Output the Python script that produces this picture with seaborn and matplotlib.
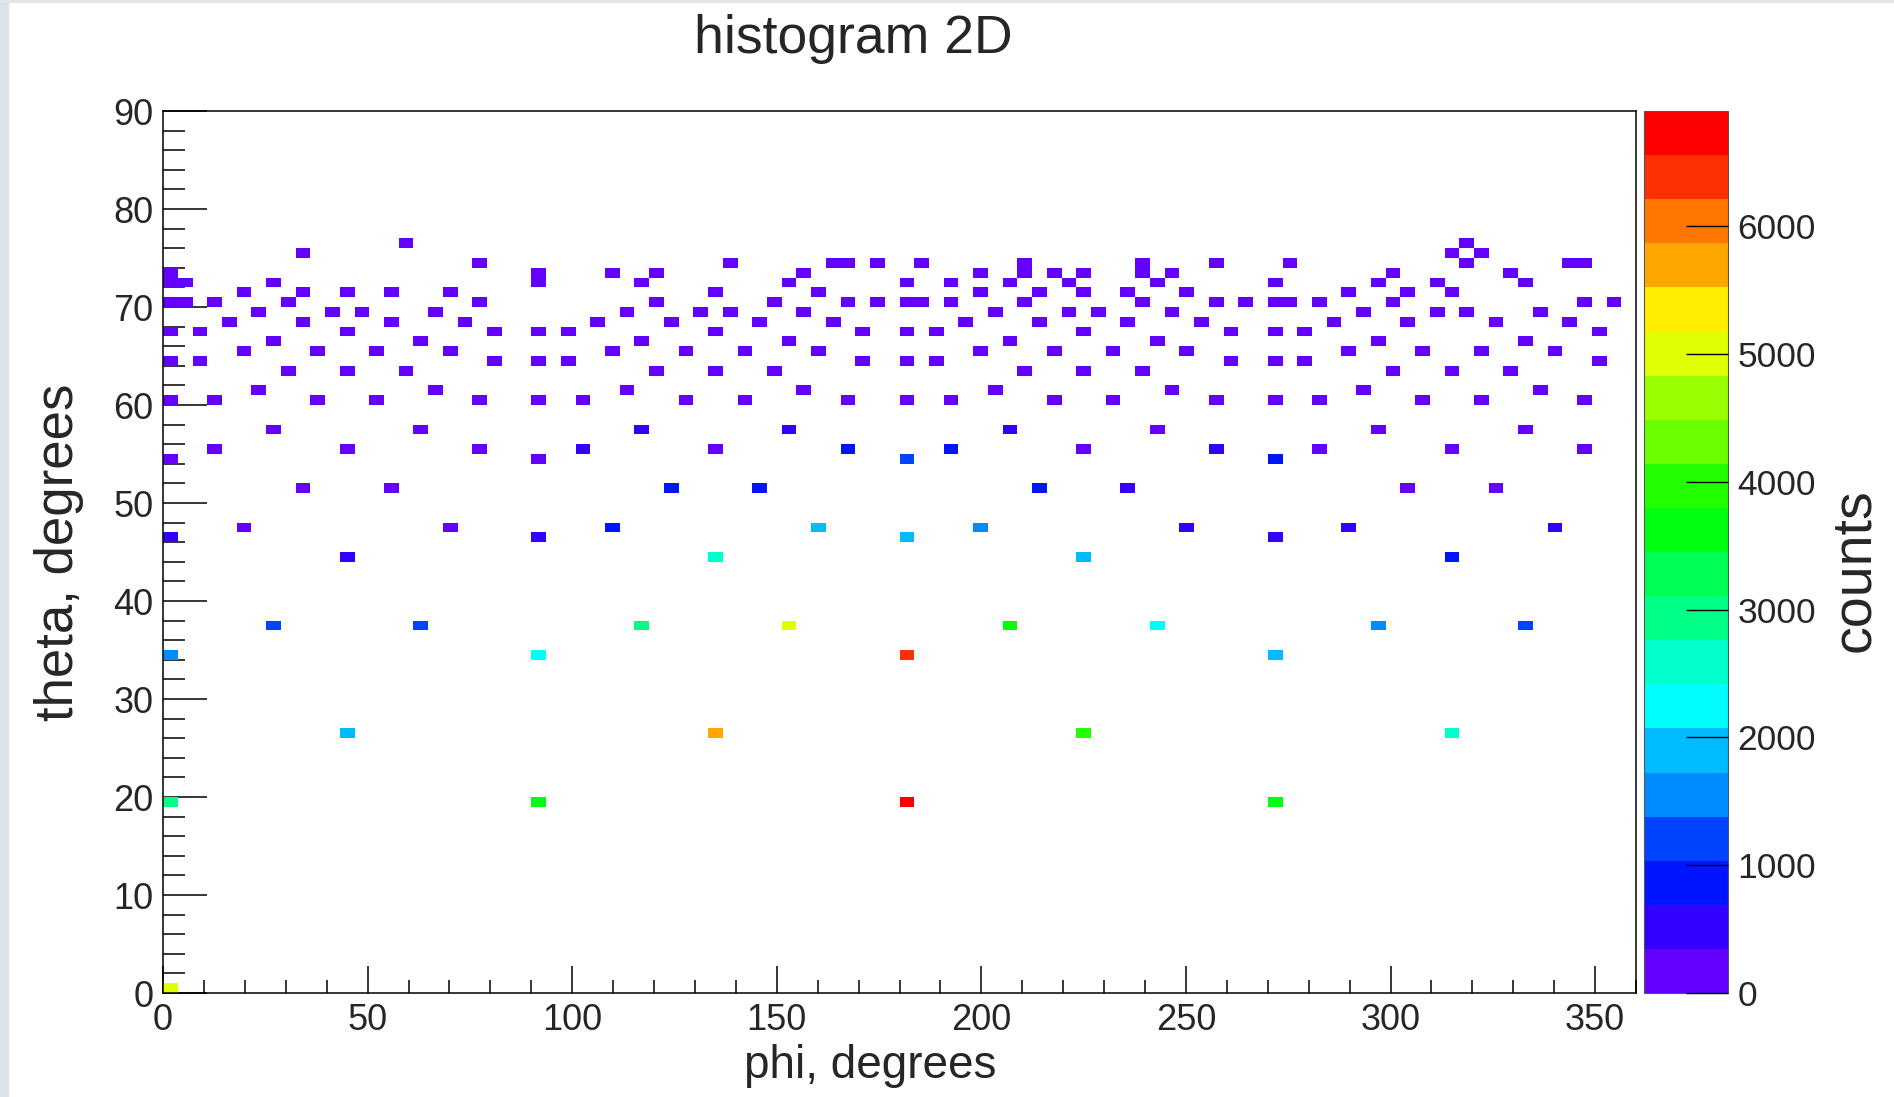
import colorsys

import numpy as np
import pandas as pd
import matplotlib
matplotlib.use("Agg")
import matplotlib.pyplot as plt
from matplotlib.colors import ListedColormap
from matplotlib.patches import Rectangle
from matplotlib.ticker import MultipleLocator
import seaborn as sns

# filled cells of the 2D histogram, one line per theta row (bin centres, degrees)
phi_deg = [
    59.4, 318.6,                                                       # 76.5
    34.2, 315.0, 322.2,                                                # 75.5
    77.4, 138.6, 163.8, 167.4, 174.6, 185.4, 210.6, 239.4, 257.4,
    275.4, 318.6, 343.8, 347.4,                                        # 74.5
    1.8, 91.8, 109.8, 120.6, 156.6, 199.8, 210.6, 217.8, 225.0,
    239.4, 246.6, 300.6, 329.4,                                        # 73.5
    1.8, 5.4, 27.0, 91.8, 117.0, 153.0, 181.8, 192.6, 207.0, 221.4,
    243.0, 271.8, 297.0, 311.4, 333.0,                                 # 72.5
    19.8, 34.2, 45.0, 55.8, 70.2, 135.0, 160.2, 199.8, 214.2, 225.0,
    235.8, 250.2, 289.8, 304.2, 315.0,                                 # 71.5
    1.8, 5.4, 12.6, 30.6, 77.4, 120.6, 149.4, 167.4, 174.6, 181.8,
    185.4, 192.6, 210.6, 239.4, 257.4, 264.6, 271.8, 275.4, 282.6,
    300.6, 347.4, 354.6,                                               # 70.5
    23.4, 41.4, 48.6, 66.6, 113.4, 131.4, 138.6, 156.6, 203.4, 221.4,
    228.6, 246.6, 293.4, 311.4, 318.6, 336.6,                          # 69.5
    16.2, 34.2, 55.8, 73.8, 106.2, 124.2, 145.8, 163.8, 196.2, 214.2,
    235.8, 253.8, 286.2, 304.2, 325.8, 343.8,                          # 68.5
    1.8, 9.0, 45.0, 81.0, 91.8, 99.0, 135.0, 171.0, 181.8, 189.0,
    225.0, 261.0, 271.8, 279.0, 351.0,                                 # 67.5
    27.0, 63.0, 117.0, 153.0, 207.0, 243.0, 297.0, 333.0,              # 66.5
    19.8, 37.8, 52.2, 70.2, 109.8, 127.8, 142.2, 160.2, 199.8, 217.8,
    232.2, 250.2, 289.8, 307.8, 322.2, 340.2,                          # 65.5
    1.8, 9.0, 81.0, 91.8, 99.0, 171.0, 181.8, 189.0, 261.0, 271.8,
    279.0, 351.0,                                                      # 64.5
    30.6, 45.0, 59.4, 120.6, 135.0, 149.4, 210.6, 225.0, 239.4, 300.6,
    315.0, 329.4,                                                      # 63.5
    23.4, 66.6, 113.4, 156.6, 203.4, 246.6, 293.4, 336.6,              # 61.5
    1.8, 12.6, 37.8, 52.2, 77.4, 91.8, 102.6, 127.8, 142.2, 167.4,
    181.8, 192.6, 217.8, 232.2, 257.4, 271.8, 282.6, 307.8, 322.2,
    347.4,                                                             # 60.5
    27.0, 63.0, 117.0, 153.0, 207.0, 243.0, 297.0, 333.0,              # 57.5
    12.6, 45.0, 77.4, 102.6, 135.0, 167.4, 192.6, 225.0, 257.4, 282.6,
    315.0, 347.4,                                                      # 55.5
    1.8, 91.8, 181.8, 271.8,                                           # 54.5
    34.2, 55.8, 124.2, 145.8, 214.2, 235.8, 304.2, 325.8,              # 51.5
    19.8, 70.2, 109.8, 160.2, 199.8, 250.2, 289.8, 340.2,              # 47.5
    1.8, 91.8, 181.8, 271.8,                                           # 46.5
    45.0, 135.0, 225.0, 315.0,                                         # 44.5
    27.0, 63.0, 117.0, 153.0, 207.0, 243.0, 297.0, 333.0,              # 37.5
    1.8, 91.8, 181.8, 271.8,                                           # 34.5
    45.0, 135.0, 225.0, 315.0,                                         # 26.5
    1.8, 91.8, 181.8, 271.8,                                           # 19.5
    1.8,                                                               # 0.5
]

theta_deg = ([76.5] * 2 + [75.5] * 3 + [74.5] * 13 + [73.5] * 13 + [72.5] * 15
             + [71.5] * 15 + [70.5] * 22 + [69.5] * 16 + [68.5] * 16 + [67.5] * 15
             + [66.5] * 8 + [65.5] * 16 + [64.5] * 12 + [63.5] * 12 + [61.5] * 8
             + [60.5] * 20 + [57.5] * 8 + [55.5] * 12 + [54.5] * 4 + [51.5] * 8
             + [47.5] * 8 + [46.5] * 4 + [44.5] * 4 + [37.5] * 8 + [34.5] * 4
             + [26.5] * 4 + [19.5] * 4 + [0.5] * 1)

counts = [
    180, 150,
    210, 160, 140,
    190, 230, 170, 200, 260, 180, 150, 220, 240, 190, 170, 210, 200,
    250, 310, 200, 180, 220, 260, 170, 230, 190, 280, 210, 240, 200,
    230, 210, 270, 290, 250, 230, 270, 260, 240, 250, 220, 260, 270, 240, 230,
    240, 260, 250, 230, 270, 280, 220, 250, 260, 270, 240, 230, 250, 260, 240,
    300, 280, 260, 240, 250, 270, 230, 220, 240, 290, 260, 230, 250, 240, 270,
    260, 280, 250, 240, 260, 230, 250,
    220, 240, 260, 230, 250, 270, 240, 230, 260, 250, 240, 230, 250, 260, 240, 230,
    250, 260, 240, 230, 270, 250, 240, 260, 250, 240, 260, 230, 250, 240, 260, 250,
    280, 260, 250, 240, 290, 250, 270, 240, 300, 250, 260, 240, 290, 250, 240,
    230, 240, 250, 260, 240, 250, 230, 240,
    260, 250, 240, 230, 250, 260, 240, 250, 270, 250, 240, 230, 250, 260, 240, 250,
    280, 260, 240, 300, 250, 240, 290, 260, 240, 300, 250, 260,
    250, 270, 260, 240, 280, 250, 260, 270, 250, 240, 270, 260,
    260, 250, 240, 250, 260, 250, 240, 250,
    290, 270, 260, 250, 260, 310, 270, 250, 260, 250, 300, 270, 260, 250, 260, 320,
    270, 250, 260, 250,
    280, 300, 550, 600, 560, 290, 310, 300,
    260, 300, 270, 520, 320, 850, 820, 330, 560, 280, 310, 270,
    300, 320, 1250, 760,
    270, 260, 900, 950, 1000, 620, 310, 290,
    290, 300, 900, 1950, 1650, 560, 540, 560,
    560, 520, 1850, 540,
    620, 2600, 1900, 850,
    1150, 1100, 3000, 5100, 3700, 2250, 1600, 1200,
    1550, 2300, 6450, 1900,
    1900, 5800, 3900, 2650,
    2950, 3700, 6850, 3650,
    5100,
]

phi_edges = np.linspace(0, 360, 101)
theta_edges = np.linspace(0, 90, 91)
z_max = 6900
n_levels = 20


def root_palette(n):
    # ROOT "pretty palette" (violet -> red), sampled the way COLZ does it
    cols = []
    for k in range(n):
        j = int((k + 0.99) * 50 / n)
        if j >= 49:
            cols.append((1.0, 0.0, 0.0))
        else:
            hue = 280 - (j + 1) * 5.6
            cols.append(colorsys.hls_to_rgb(hue / 360, 0.5, 1.0))
    return ListedColormap(cols)


df = pd.DataFrame({"phi": phi_deg, "theta": theta_deg, "counts": counts})

sns.set_theme(style="white")
plt.rcParams["font.family"] = ["Liberation Sans", "DejaVu Sans"]

fig = plt.figure(figsize=(18.94, 10.97), dpi=100)
ax = fig.add_axes([0.0861, 0.0948, 0.7777, 0.804])
cax = fig.add_axes([0.868, 0.0948, 0.0443, 0.804])

sns.histplot(data=df, x="phi", y="theta", weights="counts",
             bins=[phi_edges, theta_edges], cmap=root_palette(n_levels),
             vmin=0, vmax=z_max, cbar=True, cbar_ax=cax, ax=ax)

ax.set_xlim(0, 360)
ax.set_ylim(0, 90)
ax.xaxis.set_major_locator(MultipleLocator(50))
ax.xaxis.set_minor_locator(MultipleLocator(10))
ax.yaxis.set_major_locator(MultipleLocator(10))
ax.yaxis.set_minor_locator(MultipleLocator(2))
ax.tick_params(axis="x", which="major", direction="in", length=19.5, width=1.1,
               pad=7, labelsize=26, color="black", bottom=True, top=False)
ax.tick_params(axis="x", which="minor", direction="in", length=9.5, width=1.1,
               color="black", bottom=True, top=False)
ax.tick_params(axis="y", which="major", direction="in", length=32, width=1.1,
               pad=7, labelsize=26, color="black", left=True, right=False)
ax.tick_params(axis="y", which="minor", direction="in", length=16, width=1.1,
               color="black", left=True, right=False)
for sp in ax.spines.values():
    sp.set_color("black")
    sp.set_linewidth(1.1)

ax.set_xlabel("phi, degrees", fontsize=33)
ax.xaxis.set_label_coords(0.48, -0.058)
ax.set_ylabel("theta, degrees", fontsize=38)
ax.yaxis.set_label_coords(-0.054, 0.5)

cax.set_yticks(range(0, 7000, 1000))
cax.yaxis.set_ticks_position("right")
cax.tick_params(axis="y", which="major", direction="in", length=30, width=1.0,
                pad=7, labelsize=25.5, color="black", right=True, left=False)
cax.minorticks_off()
cax.yaxis.set_zorder(10)
cax.set_ylabel("")
cb = ax.collections[0].colorbar
if cb is not None:
    cb.outline.set_linewidth(0.8)
    cb.outline.set_edgecolor("#555555")

fig.text(0.4504, 0.964, "histogram 2D", ha="center", va="center", fontsize=38.5)
fig.text(0.9794, 0.48, "counts", rotation=90, ha="center", va="center", fontsize=40)

# screenshot borders
fig.patches.append(Rectangle((0, 0), 8 / 1894, 1, transform=fig.transFigure,
                             color="#dde1ec", zorder=0))
fig.patches.append(Rectangle((0, 1 - 2 / 1097), 1, 2 / 1097, transform=fig.transFigure,
                             color="#e4e6ee", zorder=0))

fig.savefig("out.png", dpi=100)
